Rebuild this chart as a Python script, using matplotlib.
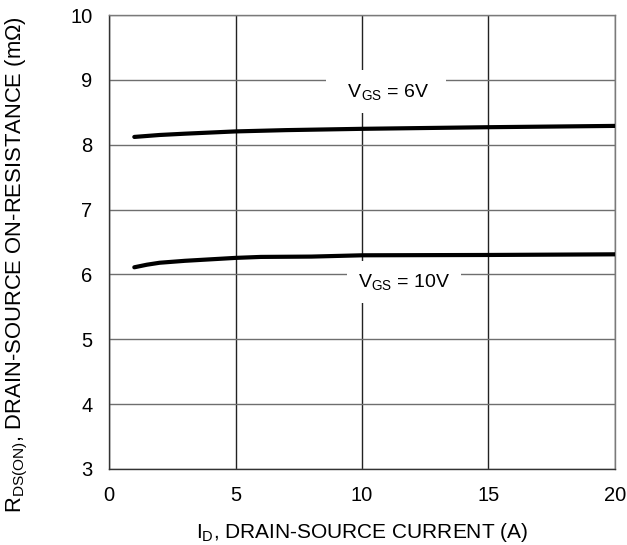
import matplotlib
matplotlib.use("Agg")
import matplotlib.pyplot as plt

plt.rcParams["font.family"] = ["Liberation Sans", "DejaVu Sans"]
plt.rcParams["mathtext.fontset"] = "custom"
plt.rcParams["mathtext.rm"] = "Liberation Sans"
plt.rcParams["mathtext.it"] = "Liberation Sans"
plt.rcParams["mathtext.default"] = "regular"

# data
id_6v = [1, 2, 3, 5, 7, 10, 15, 20]
rds_6v = [8.12, 8.15, 8.17, 8.205, 8.225, 8.245, 8.27, 8.29]
id_10v = [1, 1.5, 2, 3, 5, 6, 8, 10, 15, 20]
rds_10v = [6.11, 6.15, 6.18, 6.21, 6.255, 6.27, 6.275, 6.295, 6.30, 6.31]

x_ticks = [0, 5, 10, 15, 20]
y_ticks = [3, 4, 5, 6, 7, 8, 9, 10]

fig = plt.figure(figsize=(6.27, 5.45), dpi=100)
ax = fig.add_axes([109 / 627, 1 - 469 / 545, 506 / 627, 454 / 545])

ax.plot(id_6v, rds_6v, color="black", lw=3, solid_capstyle="round", zorder=3)
ax.plot(id_10v, rds_10v, color="black", lw=3, solid_capstyle="round", zorder=3)

ax.set_xlim(0, 20)
ax.set_ylim(3, 10)
ax.set_xticks(x_ticks)
ax.set_yticks(y_ticks)
ax.xaxis.grid(True, color="#222222", lw=1.0)
ax.yaxis.grid(True, color="#6e6e6e", lw=1.0)
ax.set_axisbelow(True)
ax.spines["left"].set_color("#333333")
ax.spines["bottom"].set_color("#333333")
ax.spines["top"].set_color("#7a7a7a")
ax.spines["right"].set_color("#7a7a7a")
for s in ax.spines.values():
    s.set_linewidth(1.0)
ax.tick_params(length=0, labelsize=14.5, pad=12, colors="black")

box = dict(facecolor="white", edgecolor="none", pad=8)
ax.text(10.95, 8.82, "  V$_{GS}$ = 6V  ", fontsize=14, ha="center", va="center", bbox=box, zorder=2)
ax.text(11.65, 5.88, "V$_{GS}$ = 10V", fontsize=14, ha="center", va="center", bbox=box, zorder=2)

ax.set_xlabel("I$_D$, DRAIN-SOURCE CURRENT (A)", fontsize=15, labelpad=12)
ax.set_ylabel("R$_{DS(ON)}$, DRAIN-SOURCE ON-RESISTANCE (mΩ)", fontsize=15.8)
ax.yaxis.set_label_coords(-0.157, 0.45)

fig.savefig("out.png", dpi=100)
